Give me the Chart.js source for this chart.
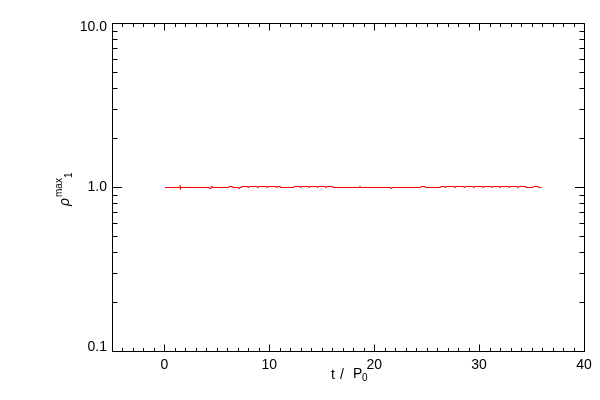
<!DOCTYPE html>
<html>
<head>
<meta charset="utf-8">
<script src="https://cdn.jsdelivr.net/npm/chart.js@4"></script>
<style>
  body { margin: 0; background: #fff; }
  #wrap { width: 600px; height: 400px; }
</style>
</head>
<body>
<div id="wrap"><canvas id="rhoChart" width="600" height="400"></canvas></div>
<script>
// black reference line (sits under the red curve)
const blackT = [0, 35.9];
const blackRho = [1.0, 1.0];

// red curve: each value holds from its t up to the next t
const redT = [
    0, 1.45, 1.47, 1.49,
    4.2, 4.4, 4.5,
    6.1, 6.45, 7.0, 7.1, 7.3,
    7.9, 8.0, 8.8, 8.9, 9.7, 9.8, 10.6, 10.7, 11.0,
    12.3, 12.9, 13.0, 13.7, 13.8, 14.5, 14.6, 15.3, 15.4, 16.0,
    18.55, 18.65, 21.55, 21.65,
    24.4, 24.8,
    26.3, 26.7, 26.8, 27.6, 27.7, 28.5, 28.6, 29.4, 29.5, 30.3, 30.4,
    31.1, 31.2, 31.9, 32.0, 32.8, 32.9, 33.6, 33.7, 34.4,
    35.1, 35.6, 35.9
];
const redRho = [
    1.0, 1.03, 0.97, 1.0,
    0.986, 1.014, 1.0,
    1.014, 1.0, 0.986, 1.0, 1.014,
    1.0, 1.014, 1.0, 1.014, 1.0, 1.014, 1.0, 1.014, 1.0,
    1.014, 1.0, 1.014, 1.0, 1.014, 1.0, 1.014, 1.0, 1.014, 1.0,
    1.014, 1.0, 0.986, 1.0,
    1.014, 1.0,
    1.014, 1.0, 1.014, 1.0, 1.014, 1.0, 1.014, 1.0, 1.014, 1.0, 1.014,
    1.0, 1.014, 1.0, 1.014, 1.0, 1.014, 1.0, 1.014, 1.0,
    1.014, 1.0, 1.0
];

// axis ticks
const xTicks = [0, 10, 20, 30, 40];
const xTickLabels = ['0', '10', '20', '30', '40'];
const yTicks = [0.1, 1, 10];
const yTickLabels = ['0.1', '1.0', '10.0'];

const FONT = '"Liberation Sans", Arial, sans-serif';

// shift the data half a pixel so 1px lines land crisp
const crispLines = {
    id: 'crispLines',
    beforeDatasetsDraw(chart) {
        chart.ctx.save();
        chart.ctx.translate(0.5, 0.5);
    },
    afterDatasetsDraw(chart) {
        chart.ctx.restore();
    }
};

// IDL style box: inward ticks on all four sides, labels and titles
const idlFrame = {
    id: 'idlFrame',
    afterDraw(chart) {
        const { ctx, chartArea: a, scales: { x, y } } = chart;
        const L = a.left + 0.5, R = a.right + 0.5, T = a.top + 0.5, B = a.bottom + 0.5;
        ctx.save();
        ctx.strokeStyle = '#000';
        ctx.lineWidth = 1;
        ctx.beginPath();
        ctx.rect(L, T, R - L, B - T);

        // x ticks (major every 10, minor every 1)
        for (let v = -5; v <= 40; v++) {
            const px = Math.round(x.getPixelForValue(v)) + 0.5;
            const len = (v % 10 === 0) ? 7 : 3.5;
            ctx.moveTo(px, B); ctx.lineTo(px, B - len);
            ctx.moveTo(px, T); ctx.lineTo(px, T + len);
        }

        // y ticks (log: decades major, 2..9 minor)
        [0.1, 1].forEach(d => {
            for (let m = 1; m <= 10; m++) {
                const v = d * m;
                const py = Math.round(y.getPixelForValue(v)) + 0.5;
                const len = (m === 1 || m === 10) ? 9.5 : 5;
                ctx.moveTo(L, py); ctx.lineTo(L + len, py);
                ctx.moveTo(R, py); ctx.lineTo(R - len, py);
            }
        });
        ctx.stroke();

        ctx.fillStyle = '#000';
        ctx.font = '14px ' + FONT;

        // x tick labels
        ctx.textAlign = 'center';
        ctx.textBaseline = 'middle';
        xTicks.forEach((v, i) => {
            ctx.fillText(xTickLabels[i], x.getPixelForValue(v), a.bottom + 14);
        });

        // y tick labels
        ctx.textAlign = 'right';
        yTicks.forEach((v, i) => {
            let py = y.getPixelForValue(v);
            py = Math.min(Math.max(py, a.top + 4), a.bottom - 4);
            ctx.fillText(yTickLabels[i], a.left - 5, py);
        });

        // x title: t / P0
        ctx.textAlign = 'left';
        ctx.textBaseline = 'alphabetic';
        ctx.font = '14px ' + FONT;
        ctx.fillText('t', 331, 379);
        ctx.fillText('/', 340, 379);
        ctx.fillText('P', 353, 378);
        ctx.font = '10px ' + FONT;
        ctx.fillText('0', 362, 381);

        // y title: rho^max_1, rotated
        ctx.save();
        ctx.translate(69, 206);
        ctx.rotate(-Math.PI / 2);
        ctx.font = 'italic 14px ' + FONT;
        ctx.fillText('\u03c1', 0, 0);
        ctx.font = '10px ' + FONT;
        ctx.fillText('max', 9, -7);
        ctx.fillText('1', 28, 3);
        ctx.restore();

        ctx.restore();
    }
};

new Chart(document.getElementById('rhoChart'), {
    type: 'line',
    data: {
        datasets: [
            {
                data: redT.map((t, i) => ({ x: t, y: redRho[i] })),
                borderColor: '#ff0000',
                borderWidth: 1,
                pointRadius: 0,
                stepped: true,
                order: 1
            },
            {
                data: blackT.map((t, i) => ({ x: t, y: blackRho[i] })),
                borderColor: '#000000',
                borderWidth: 1,
                pointRadius: 0,
                hidden: true,
                order: 2
            }
        ]
    },
    options: {
        responsive: false,
        animation: false,
        layout: { padding: { left: 112, right: 16, top: 23, bottom: 49 } },
        scales: {
            x: { type: 'linear', min: -5, max: 40, display: false },
            y: { type: 'logarithmic', min: 0.1, max: 10, display: false }
        },
        plugins: {
            legend: { display: false },
            tooltip: { enabled: false }
        }
    },
    plugins: [crispLines, idlFrame]
});
</script>
</body>
</html>
